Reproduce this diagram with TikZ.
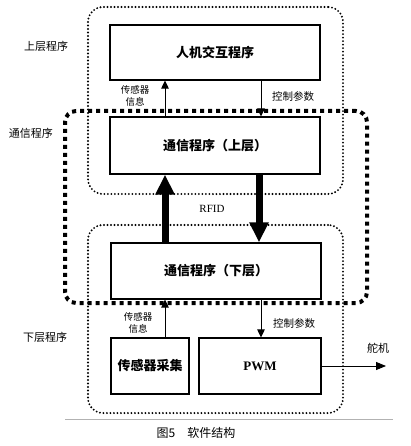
\documentclass[tikz,border=0pt]{standalone}
\usepackage{fontspec}
\setmainfont{Liberation Serif}
\newfontfamily\cjk{Noto Sans CJK SC}
\usetikzlibrary{arrows.meta}
\begin{document}
\begin{tikzpicture}[x=1pt,y=-1pt,
  region/.style={draw, line width=2.1pt, dash pattern=on 0pt off 3.5pt, line cap=round, rounded corners=15pt, minimum width=#1, inner sep=0pt},
  thickregion/.style={draw, line width=4pt, dash pattern=on 4pt off 4pt, rounded corners=11pt, inner sep=0pt},
  box/.style={draw, line width=1.1pt, fill=white, inner sep=0pt, font=\cjk\bfseries\fontsize{13}{15}\selectfont},
  lbl/.style={font=\cjk\fontsize{9.5}{11}\selectfont, align=center, inner sep=0pt},
  sidelbl/.style={font=\cjk\fontsize{11}{13}\selectfont, inner sep=0pt},
  thinarr/.style={line width=0.9pt, -{Triangle[width=7.5pt,length=8pt]}},
  thickarr/.style={line width=7pt, -{Triangle[width=18pt,length=20pt]}}
]
\useasboundingbox (0,0) rectangle (411,446);
% regions
\node[region=255pt, minimum height=187pt] (upreg) at (215.5,100.5) {};
\node[region=255pt, minimum height=188pt] (lowreg) at (215.5,319) {};
\node[thickregion, minimum width=302pt, minimum height=192pt] (comreg) at (216,207) {};
% boxes
\node[box, minimum width=210pt, minimum height=55pt] (hmi) at (215,52.5) {人机交互程序};
\node[box, minimum width=210pt, minimum height=57pt] (comup) at (215,145.5) {通信程序（上层）};
\node[box, minimum width=210pt, minimum height=56pt] (comlow) at (216,271) {通信程序（下层）};
\node[box, minimum width=78pt, minimum height=56pt] (sensor) at (150,366) {传感器采集};
\node[box, minimum width=122pt, minimum height=56pt, font=\bfseries\fontsize{13}{15}\selectfont] (pwm) at (260,366) {PWM};
% x positions of connectors
\coordinate (xl) at (165,0);
\coordinate (xr) at (261,0);
\coordinate (xtl) at (165,0);
\coordinate (xtr) at (259,0);
\coordinate (servo) at (386,366);
% upper thin arrows
\draw[thinarr] (comup.north -| xl) -- (hmi.south -| xl);
\draw[thinarr] (hmi.south -| xr) -- (comup.north -| xr);
% thick arrows
\draw[thickarr] (comlow.north -| xtl) -- (comup.south -| xtl);
\draw[thickarr] (comup.south -| xtr) -- (comlow.north -| xtr);
% lower thin arrows
\draw[thinarr] (sensor.north -| xl) -- (comlow.south -| xl);
\draw[thinarr] (comlow.south -| xr) -- (pwm.north -| xr);
% output
\draw[line width=0.9pt, -{Triangle[width=8pt,length=10pt]}] (pwm.east) -- (servo);
% labels
\node[lbl] (l1) at (135,96) {传感器\\[1pt]信息};
\node[lbl, font=\cjk\fontsize{10.5}{12}\selectfont] (l2) at (293,97) {控制参数};
\node[lbl] (l3) at (138,323) {传感器\\[1pt]信息};
\node[lbl, font=\cjk\fontsize{10.5}{12}\selectfont] (l4) at (294,323) {控制参数};
\node[inner sep=0pt, font=\fontsize{11}{13}\selectfont] (rfid) at (212,209) {RFID};
\node[sidelbl] (s1) at (46,46) {上层程序};
\node[sidelbl] (s2) at (31,133) {通信程序};
\node[sidelbl] (s3) at (45,337) {下层程序};
\node[sidelbl] (servolbl) at (378,348) {舵机};
% caption
\coordinate (ruleL) at (65,419);
\coordinate (ruleR) at (393,419);
\draw[gray!60, line width=0.5pt] (ruleL) -- (ruleR);
\node[inner sep=0pt, font=\cjk\fontsize{12}{14}\selectfont] (cap) at (196,433) {图5\quad 软件结构};
\end{tikzpicture}
\end{document}
